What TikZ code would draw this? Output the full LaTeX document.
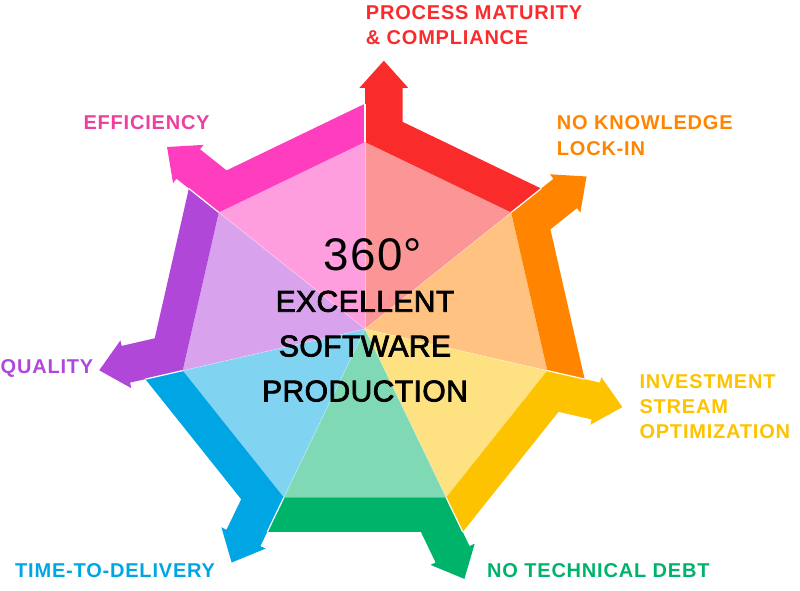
\documentclass[tikz,border=0pt]{standalone}
\usepackage{fontspec}
\setmainfont{Liberation Sans}
\newfontfamily\labelfont[LetterSpace=4]{Liberation Sans}
\newfontfamily\centerfont[LetterSpace=1.5,FakeBold=2.5]{Liberation Sans}
\newfontfamily\degfont[LetterSpace=3]{Liberation Sans}
\usetikzlibrary{calc}
\definecolor{redD}{HTML}{F92B2B}
\definecolor{orangeD}{HTML}{FF8500}
\definecolor{yellowD}{HTML}{FDC300}
\definecolor{greenD}{HTML}{00B36B}
\definecolor{blueD}{HTML}{00A6E4}
\definecolor{purpleD}{HTML}{B147D9}
\definecolor{pinkD}{HTML}{FF3DBF}
\definecolor{pinkT}{HTML}{EC3F9E}
\tikzset{
  lab/.style={inner sep=0pt, anchor=base west, font=\labelfont\bfseries\fontsize{20}{24}\selectfont},
  ctr/.style={inner sep=0pt, anchor=base, text=black, font=\centerfont\fontsize{30}{36}\selectfont},
  sep/.style={white, line width=1.2pt},
  faint/.style={white, opacity=0.45, line width=0.5pt}
}
\begin{document}
\begin{tikzpicture}[x=1pt,y=-1pt]
\useasboundingbox (0,0) rectangle (800,591);
\coordinate (C) at (365,329);
\def\Ri{187}
\def\Ro{225.3}
\foreach \k/\col in {0/redD,1/orangeD,2/yellowD,3/greenD,4/blueD,5/purpleD,6/pinkD}{
  \pgfmathsetmacro\a{\k*360/7-90}
  \pgfmathsetmacro\b{(\k+1)*360/7-90}
  \pgfmathsetmacro\aw{\a+90}
  \pgfmathsetmacro\am{\a-90}
  \coordinate (V\k) at ($(C)+(\a:\Ri)$);
  \coordinate (W\k) at ($(C)+(\a:\Ro)$);
  \fill[\col!50!white] (C) -- ($(C)+(\a:\Ri)$) -- ($(C)+(\b:\Ri)$) -- cycle;
  \fill[\col] (V\k)
    -- ($(V\k)+(\a:54)$)
    -- ($(V\k)+(\a:54)+(\am:5.7)$)
    -- ($(V\k)+(\a:81.3)+(\aw:18.85)$)
    -- ($(V\k)+(\a:54)+(\aw:43.3)$)
    -- ($(V\k)+(\a:54)+(\aw:37.7)$)
    -- ($(V\k)+(\a:20.1)+(\aw:37.7)$)
    -- ($(C)+(\b:\Ro)$)
    -- ($(C)+(\b:\Ri)$) -- cycle;
}
\foreach \k in {0,...,6}{
  \draw[faint] (C) -- (V\k);
  \draw[sep] (V\k) -- (W\k);
}
% labels
\node[lab, text=redD] (lpm1) at (365.7,20) {PROCESS MATURITY};
\node[lab, text=redD] (lpm2) at (365.7,45) {\& COMPLIANCE};
\node[lab, text=orangeD] (lnk1) at (556.7,130) {NO KNOWLEDGE};
\node[lab, text=orangeD] (lnk2) at (556.7,155) {LOCK-IN};
\node[lab, text=yellowD] (lis1) at (639.3,388) {INVESTMENT};
\node[lab, text=yellowD] (lis2) at (639.3,413) {STREAM};
\node[lab, text=yellowD] (lis3) at (639.3,438.3) {OPTIMIZATION};
\node[lab, text=greenD] (ltd) at (487,577) {NO TECHNICAL DEBT};
\node[lab, text=blueD] (ltt) at (15,577) {TIME-TO-DELIVERY};
\node[lab, text=purpleD] (lq) at (0.5,373.5) {QUALITY};
\node[lab, text=pinkT] (le) at (83.3,130) {EFFICIENCY};
% center text
\node[inner sep=0pt, anchor=base west, font=\degfont\fontsize{45.7}{50}\selectfont] (t360) at (323.3,270) {360°};
\node[ctr] (t1) at (365,311.7) {EXCELLENT};
\node[ctr] (t2) at (365,356.4) {SOFTWARE};
\node[ctr] (t3) at (365,401.4) {PRODUCTION};
\end{tikzpicture}
\end{document}
